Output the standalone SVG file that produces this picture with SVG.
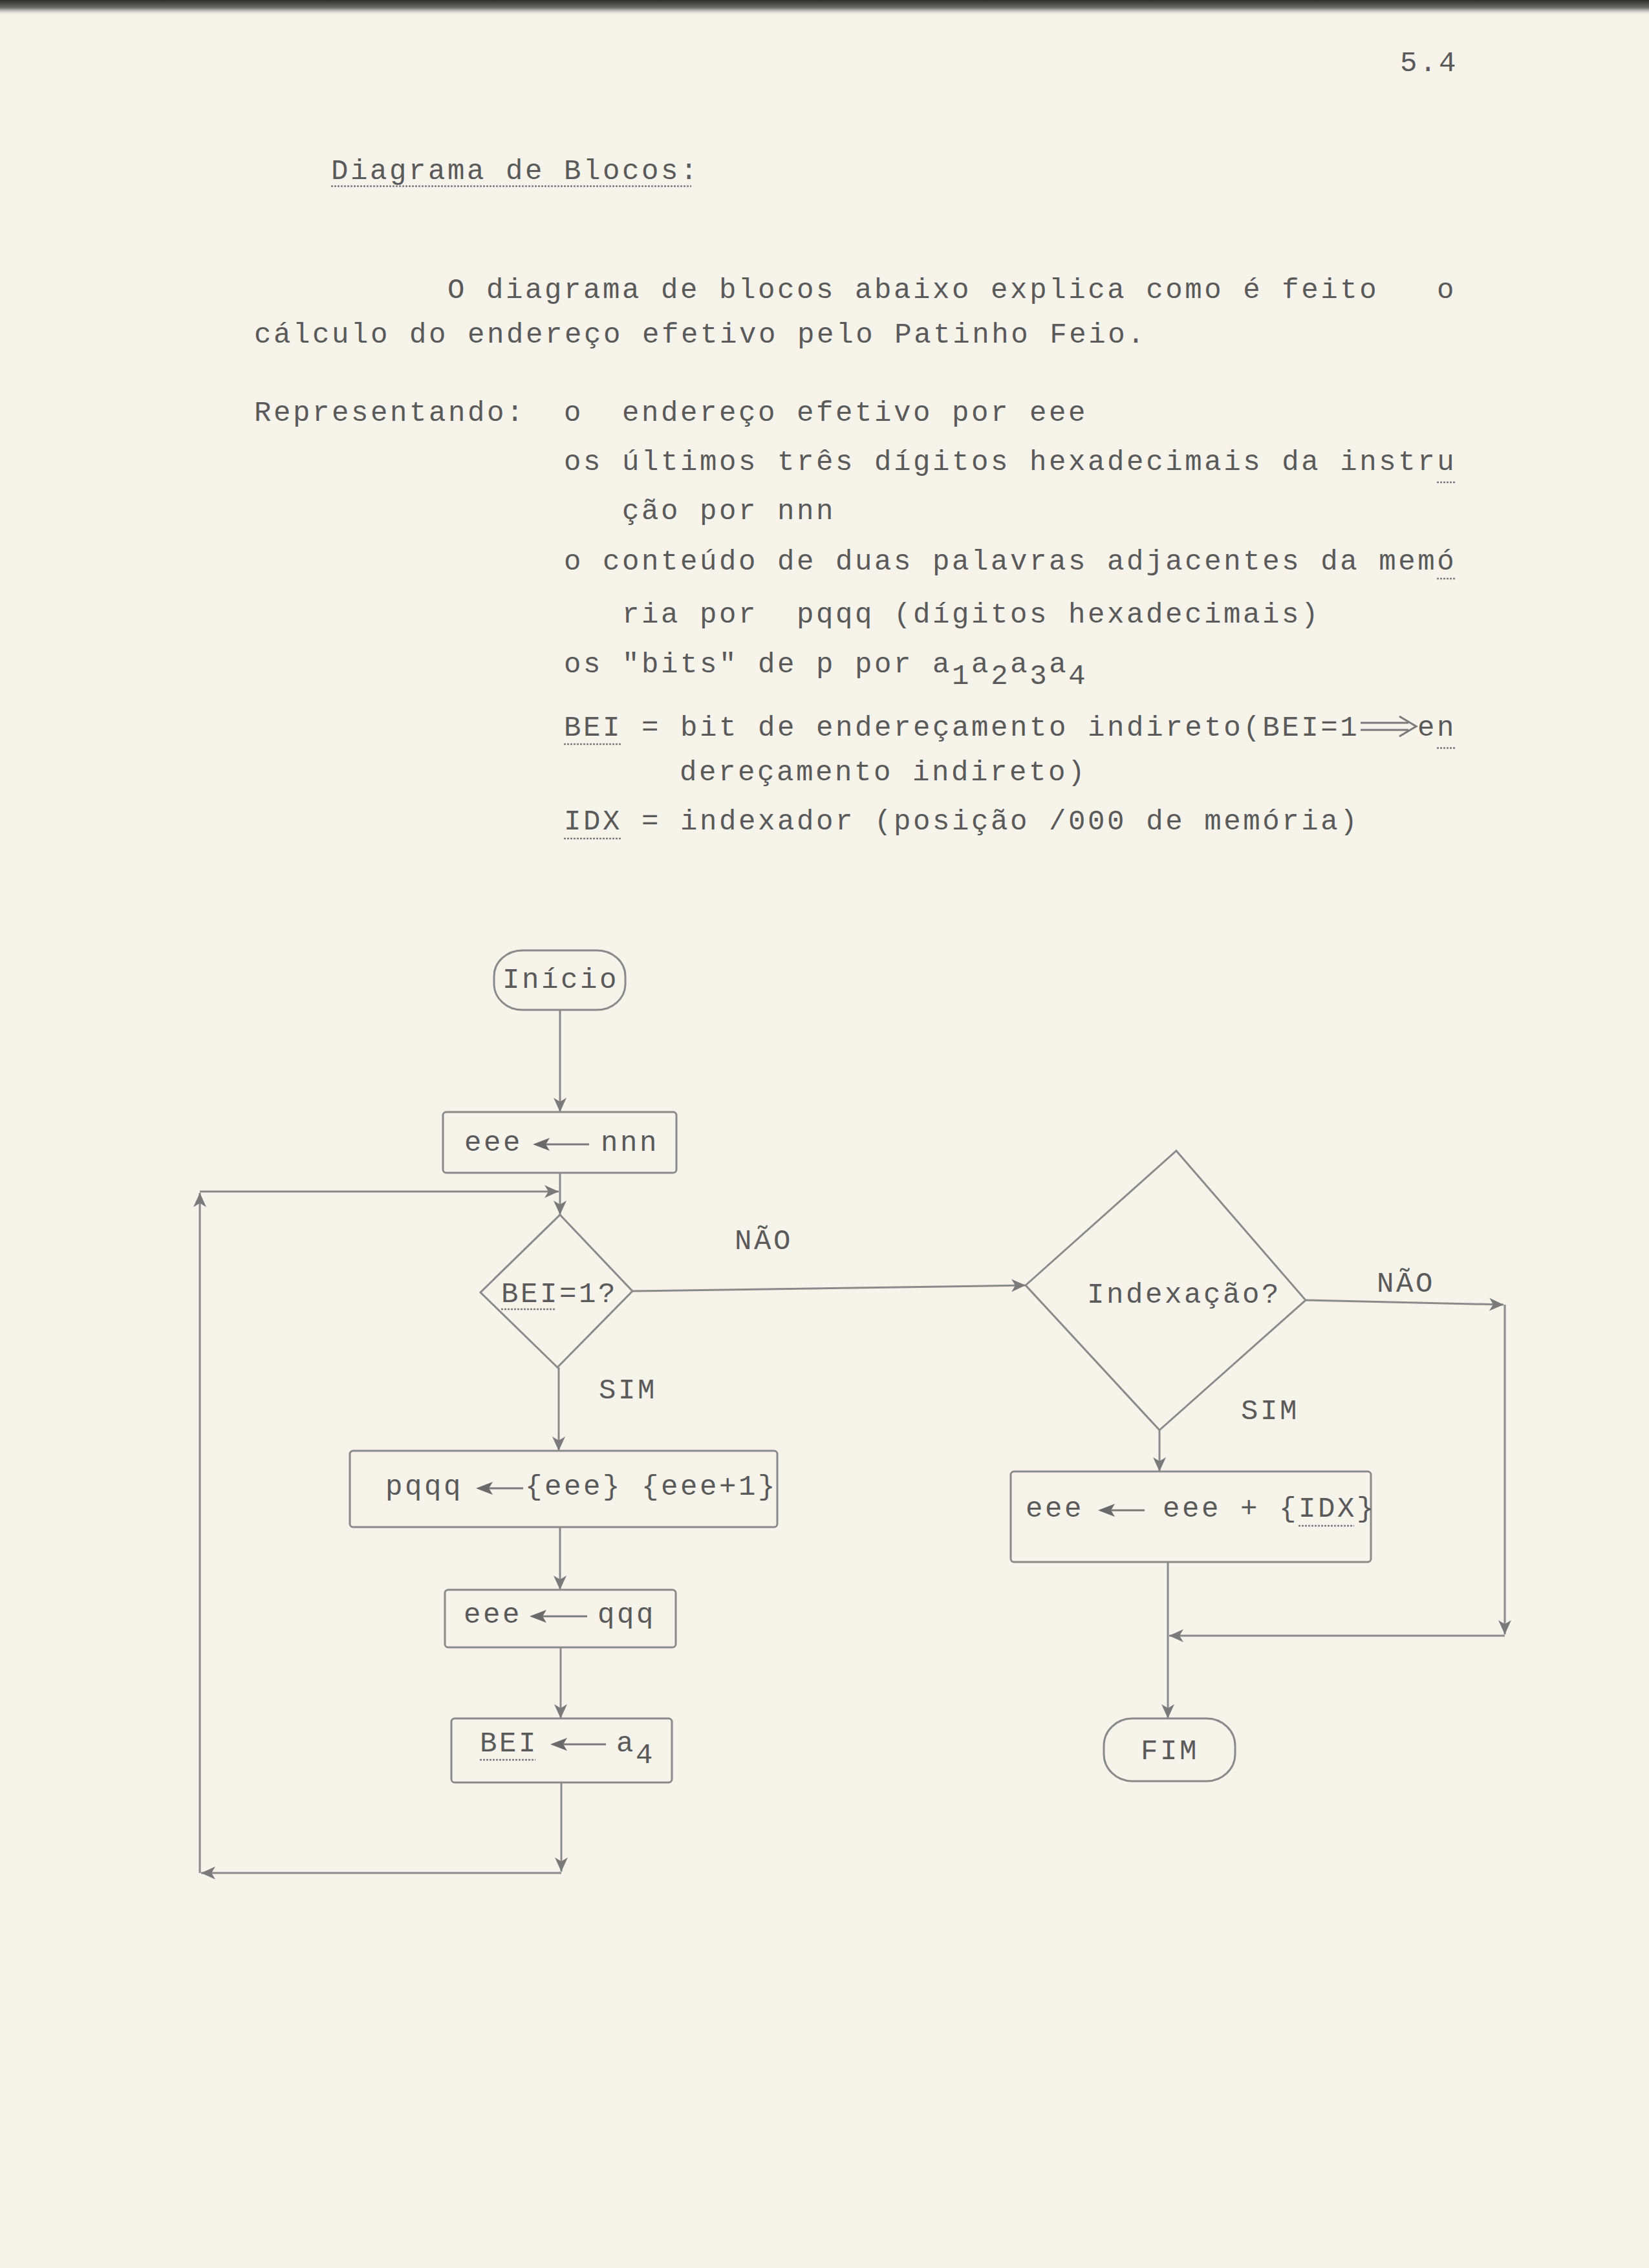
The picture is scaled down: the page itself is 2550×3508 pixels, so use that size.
<svg xmlns="http://www.w3.org/2000/svg" width="2550" height="3508" viewBox="0 0 2550 3508">
<defs>
<linearGradient id="topband" x1="0" y1="0" x2="0" y2="1">
<stop offset="0" stop-color="#2e2e2e"/>
<stop offset="0.5" stop-color="#6b6b68"/>
<stop offset="1" stop-color="#f5f2eb" stop-opacity="0"/>
</linearGradient>
<marker id="ah" markerUnits="userSpaceOnUse" markerWidth="24" markerHeight="20" refX="22" refY="10" orient="auto">
<path d="M0,0 L22,10 L0,20 L6,10 z" fill="#7a7a7a"/>
</marker>
<style>
.t{font-family:"Liberation Mono","DejaVu Sans Mono",monospace;font-size:44px;letter-spacing:3.6px;fill:#5a5a5a}
.u{stroke:#7a7a7a;stroke-width:2.5;stroke-dasharray:3 2;fill:none}
.s{fill:none;stroke:#8a8a8a;stroke-width:3}
.c{fill:none;stroke:#8a8a8a;stroke-width:3;marker-end:url(#ah)}
.ta{fill:#6a6a6a}
.tl{stroke:#7a7a7a;stroke-width:3;fill:none}
</style>
</defs>
<rect x="0" y="0" width="2550" height="3508" fill="#f6f3eb"/>
<rect x="0" y="0" width="2550" height="24" fill="url(#topband)"/>

<g id="header">
<text class="t" x="2165" y="110">5.4</text>
<text class="t" x="512" y="277">Diagrama de Blocos:</text>
<line class="u" x1="512" y1="288" x2="1069" y2="288"/>
</g>

<g id="intro">
<text class="t" x="692" y="461">O diagrama de blocos abaixo explica como é feito</text>
<text class="t" x="2222" y="461">o</text>
<text class="t" x="393" y="530">cálculo do endereço efetivo pelo Patinho Feio.</text>
<text class="t" x="393" y="651">Representando:</text>
<text class="t" x="872" y="651">o</text>
<text class="t" x="962" y="651">endereço efetivo por eee</text>
<text class="t" x="872" y="727">os últimos três dígitos hexadecimais da instru</text>
<line class="u" x1="2222" y1="746" x2="2250" y2="746"/>
<text class="t" x="962" y="803">ção por nnn</text>
<text class="t" x="872" y="881">o conteúdo de duas palavras adjacentes da memó</text>
<line class="u" x1="2222" y1="895" x2="2250" y2="895"/>
<text class="t" x="962" y="963">ria por</text>
<text class="t" x="1232" y="963">pqqq (dígitos hexadecimais)</text>
<text class="t" x="872" y="1040">os "bits" de p por a<tspan dy="18">1</tspan><tspan dy="-18">a</tspan><tspan dy="18">2</tspan><tspan dy="-18">a</tspan><tspan dy="18">3</tspan><tspan dy="-18">a</tspan><tspan dy="18">4</tspan></text>
<text class="t" x="872" y="1138">BEI = bit de endereçamento indireto(BEI=1</text>
<line class="u" x1="872" y1="1151" x2="960" y2="1151"/>
<path class="tl" d="M2104,1118 H2178 M2104,1129 H2178 M2164,1108 L2190,1123.5 L2164,1139"/>
<text class="t" x="2192" y="1138">en</text>
<line class="u" x1="2222" y1="1157" x2="2250" y2="1157"/>
<text class="t" x="1051" y="1207">dereçamento indireto)</text>
<text class="t" x="872" y="1283">IDX = indexador (posição /000 de memória)</text>
<line class="u" x1="872" y1="1297" x2="960" y2="1297"/>
</g>

<g id="connectors">
<line class="c" x1="866" y1="1562" x2="866" y2="1720"/>
<line class="c" x1="866" y1="1814" x2="866" y2="1879"/>
<line class="c" x1="978" y1="1997" x2="1586" y2="1988"/>
<line class="c" x1="864" y1="2115" x2="864" y2="2244"/>
<line class="c" x1="866" y1="2362" x2="866" y2="2459"/>
<line class="c" x1="867" y1="2548" x2="867" y2="2658"/>
<line class="c" x1="868" y1="2757" x2="868" y2="2895"/>
<line class="c" x1="868" y1="2897" x2="311" y2="2897"/>
<line class="c" x1="309" y1="2897" x2="309" y2="1845"/>
<line class="c" x1="309" y1="1843" x2="864" y2="1843"/>
<line class="c" x1="1793" y1="2212" x2="1793" y2="2276"/>
<line class="c" x1="2019" y1="2011" x2="2325" y2="2018"/>
<line class="c" x1="2327" y1="2018" x2="2327" y2="2528"/>
<line class="c" x1="2327" y1="2530" x2="1808" y2="2530"/>
<line class="c" x1="1806" y1="2416" x2="1806" y2="2658"/>
<text class="t" x="1136" y="1932">NÃO</text>
<text class="t" x="926" y="2163">SIM</text>
<text class="t" x="2129" y="1998">NÃO</text>
<text class="t" x="1919" y="2195">SIM</text>
</g>

<g id="inicio">
<rect class="s" x="764" y="1470" width="203" height="92" rx="44" ry="40"/>
<text class="t" x="777" y="1528">Início</text>
</g>

<g id="eee-nnn">
<rect class="s" x="685" y="1720" width="361" height="94" rx="5"/>
<text class="t" x="718" y="1780">eee</text>
<path class="ta" d="M824,1770 L850,1760 L844,1770 L850,1780 z"/>
<line class="tl" x1="844" y1="1770" x2="911" y2="1770"/>
<text class="t" x="929" y="1780">nnn</text>
</g>

<g id="bei-test">
<polygon class="s" points="866,1879 978,1997 862,2115 743,1999"/>
<text class="t" x="775" y="2014">BEI=1?</text>
<line class="u" x1="775" y1="2025" x2="860" y2="2025"/>
</g>

<g id="pqqq">
<rect class="s" x="541" y="2244" width="661" height="118" rx="5"/>
<text class="t" x="596" y="2312">pqqq</text>
<path class="ta" d="M736,2302 L762,2292 L756,2302 L762,2312 z"/>
<line class="tl" x1="756" y1="2302" x2="809" y2="2302"/>
<text class="t" x="812" y="2312">{eee} {eee+1}</text>
</g>

<g id="eee-qqq">
<rect class="s" x="688" y="2459" width="357" height="89" rx="5"/>
<text class="t" x="717" y="2510">eee</text>
<path class="ta" d="M819,2500 L845,2490 L839,2500 L845,2510 z"/>
<line class="tl" x1="839" y1="2500" x2="908" y2="2500"/>
<text class="t" x="924" y="2510">qqq</text>
</g>

<g id="bei-a4">
<rect class="s" x="698" y="2658" width="341" height="99" rx="5"/>
<text class="t" x="742" y="2709">BEI</text>
<line class="u" x1="742" y1="2722" x2="828" y2="2722"/>
<path class="ta" d="M851,2698 L877,2688 L871,2698 L877,2708 z"/>
<line class="tl" x1="871" y1="2698" x2="937" y2="2698"/>
<text class="t" x="953" y="2709">a<tspan dy="18">4</tspan></text>
</g>

<g id="indexacao">
<polygon class="s" points="1819,1780 2019,2011 1793,2212 1586,1988"/>
<text class="t" x="1681" y="2015">Indexação?</text>
</g>

<g id="eee-idx">
<rect class="s" x="1563" y="2276" width="557" height="140" rx="5"/>
<text class="t" x="1586" y="2346">eee</text>
<path class="ta" d="M1698,2336 L1724,2326 L1718,2336 L1724,2346 z"/>
<line class="tl" x1="1718" y1="2336" x2="1770" y2="2336"/>
<text class="t" x="1798" y="2346">eee + {IDX}</text>
<line class="u" x1="2008" y1="2360" x2="2094" y2="2360"/>
</g>

<g id="fim">
<rect class="s" x="1707" y="2658" width="203" height="97" rx="44" ry="42"/>
<text class="t" x="1764" y="2721">FIM</text>
</g>
</svg>
